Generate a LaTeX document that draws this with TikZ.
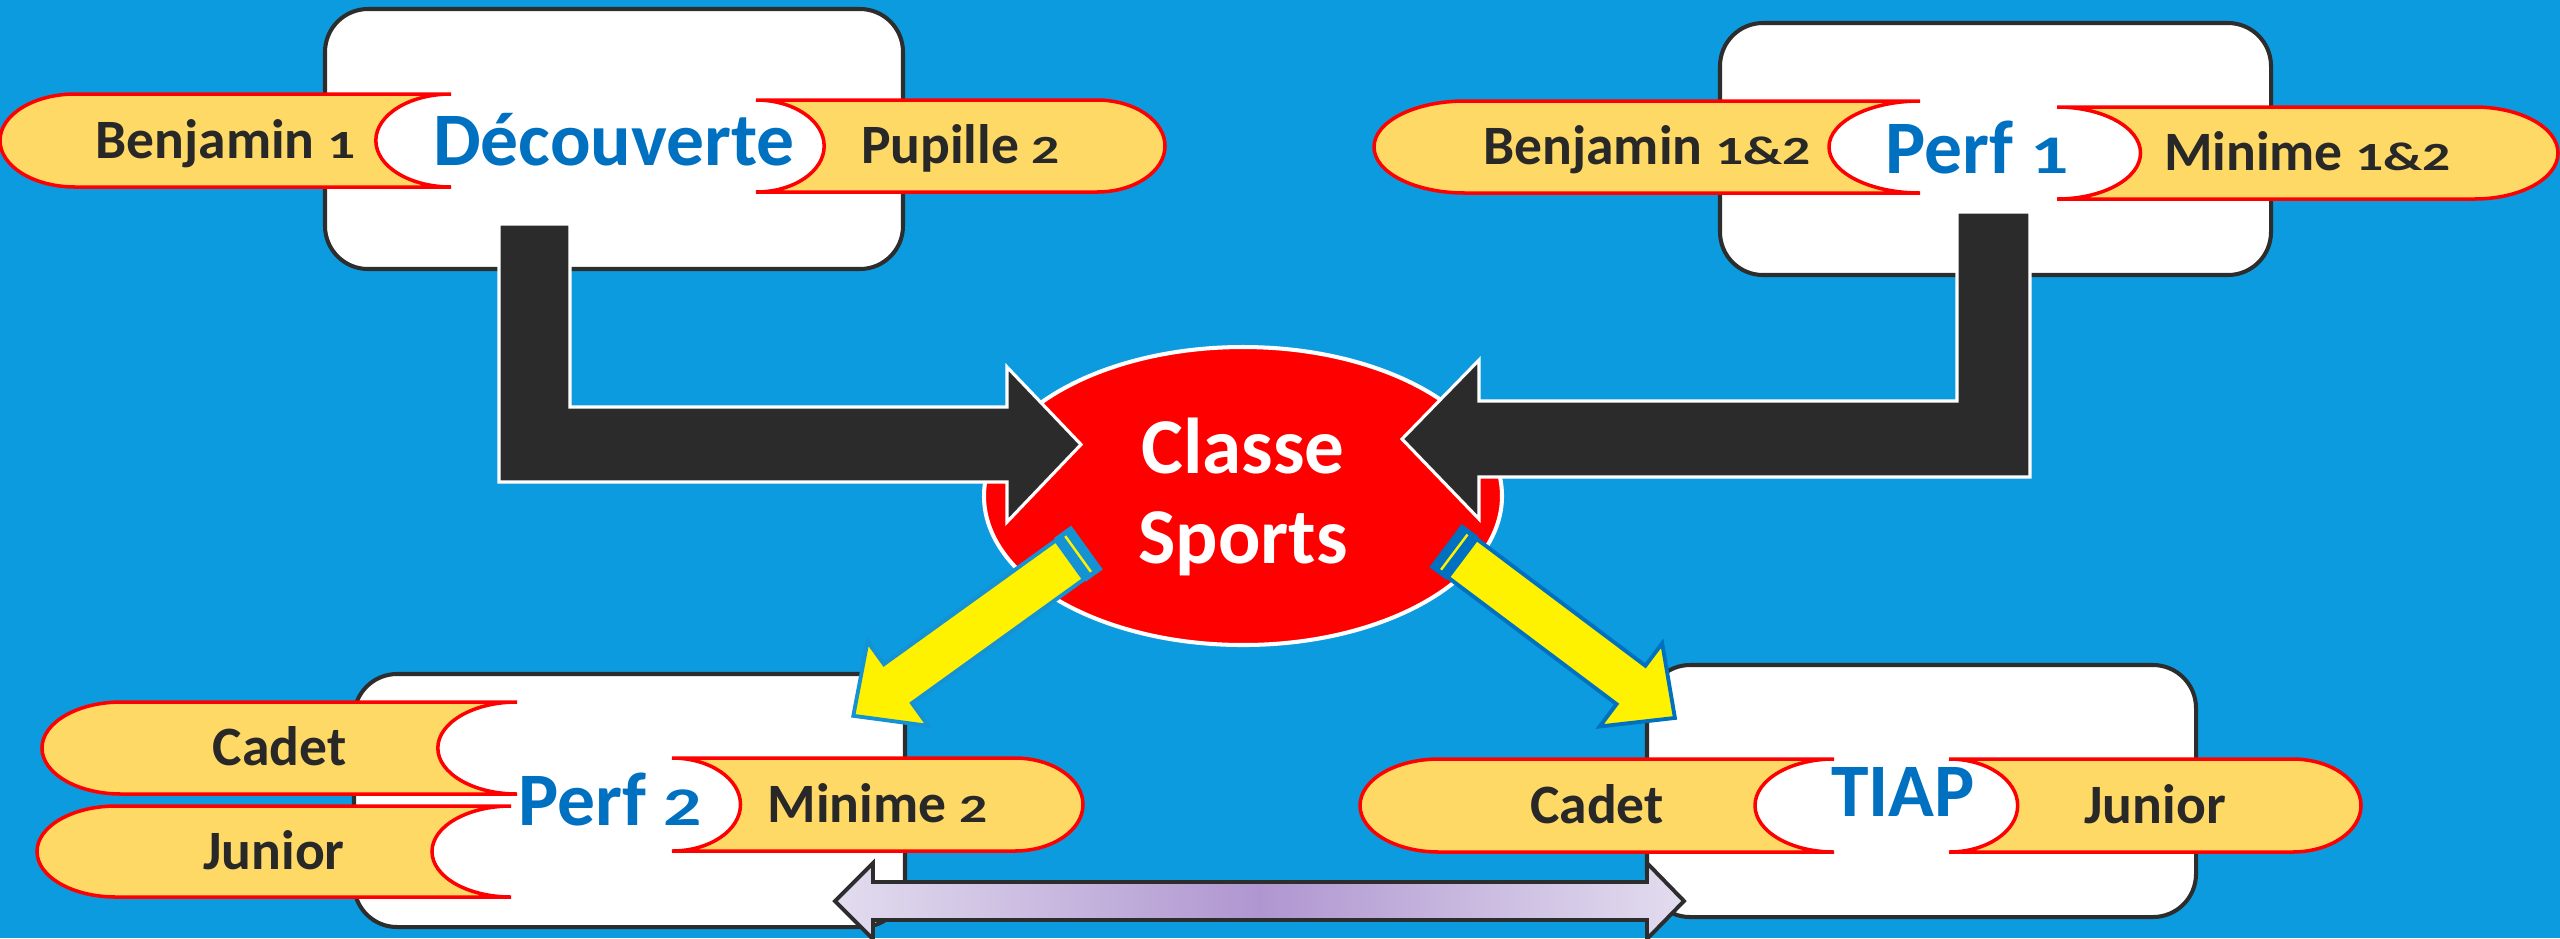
\documentclass[tikz,border=0pt]{standalone}
\usepackage{fontspec}
\setmainfont{Carlito}

\definecolor{bgblue}{RGB}{12,155,222}
\definecolor{boxgray}{RGB}{45,45,45}
\definecolor{pillfill}{RGB}{255,217,102}
\definecolor{headblue}{RGB}{0,112,192}
\definecolor{textdark}{RGB}{40,40,40}
\definecolor{arrowblack}{RGB}{43,43,43}
\definecolor{stripeblue}{RGB}{20,146,212}
\definecolor{stripedark}{RGB}{0,112,192}
\definecolor{lavlight}{RGB}{227,221,239}
\definecolor{lavdark}{RGB}{175,150,208}

% short figures, as in the slide
\newcommand{\osf}[1]{\scalebox{1}[0.72]{#1}}

\tikzset{
  levelbox/.style={draw=boxgray, line width=1.15pt, fill=white, rounded corners=0.43cm},
  pill/.style={draw=red, line width=1pt, fill=pillfill},
  pilltext/.style={anchor=base, text=textdark, font=\fontsize{15.8}{19}\selectfont\bfseries},
  headtext/.style={anchor=base, text=headblue, font=\fontsize{21.5}{26}\selectfont\bfseries},
  bentarrow/.style={fill=arrowblack, draw=white, line width=0.9pt},
  yellowbody/.style={fill=yellow, line width=1.1pt},
}

% round end on the left, hollow end on the right
\newcommand{\pillleft}[6]{%
  \pgfmathsetmacro\pr{(#4-#2)/6}
  \pgfmathsetmacro\ph{(#5-#3)/2}
  \draw[pill] (#2+\pr,#3) -- (#4,#3)
    arc[start angle=270, end angle=90, x radius=\pr, y radius=\ph]
    -- (#2+\pr,#5)
    arc[start angle=90, end angle=270, x radius=\pr, y radius=\ph] -- cycle;
  \node[pilltext] (#1) at ({(#2+#4)/2},{(#3+#5)/2+17.5}) {#6};
}
% hollow end on the left, round end on the right
\newcommand{\pillright}[6]{%
  \pgfmathsetmacro\pr{(#4-#2)/6}
  \pgfmathsetmacro\ph{(#5-#3)/2}
  \draw[pill] (#2,#3) -- (#4-\pr,#3)
    arc[start angle=270, end angle=450, x radius=\pr, y radius=\ph]
    -- (#2,#5)
    arc[start angle=90, end angle=-90, x radius=\pr, y radius=\ph] -- cycle;
  \node[pilltext] (#1) at ({(#2+#4)/2},{(#3+#5)/2+17.5}) {#6};
}

\begin{document}
\begin{tikzpicture}[x=0.01cm, y=-0.01cm]

    % background
    \useasboundingbox (0,0) rectangle (2560,938);
    \fill[bgblue] (0,0) rectangle (2560,938);

    % level boxes
    \draw[levelbox] (325,9) rectangle (903,269);
    \draw[levelbox] (1720,23) rectangle (2271,275);
    \draw[levelbox] (354,674) rectangle (905,927);
    \draw[levelbox] (1647,665) rectangle (2196,917);

    % age groups
    \pillleft{benj1}{0}{94}{451}{187}{Benjamin \osf{1}}
    \pillright{pup2}{756}{100}{1165}{192}{Pupille \osf{2}}
    \pillleft{benj12}{1374}{101}{1920}{193}{Benjamin \osf{1\&2}}
    \pillright{min12}{2057}{107}{2558}{199}{Minime \osf{1\&2}}
    \pillleft{cadetA}{42}{702}{517}{794}{Cadet}
    \pillleft{juniorA}{37}{806}{511}{897}{Junior}
    \pillright{min2}{672}{758}{1083}{851}{Minime \osf{2}}
    \pillleft{cadetB}{1360}{759}{1834}{852}{Cadet}
    \pillright{juniorB}{1949}{759}{2361}{852}{Junior}

    % level names
    \node[headtext] (decouverte) at (614,165) {Découverte};
    \node[headtext] (perf1) at (1977,173) {Perf \osf{1}};
    \node[headtext] (perf2) at (610,825) {Perf \osf{2}};
    \node[headtext] (tiap) at (1903,816) {TIAP};

    % centre
    \draw[fill=red, draw=white, line width=1.15pt] (1243,496) ellipse [x radius=259, y radius=149];
    \node[align=center, text=white, font=\fontsize{22.5}{25.6}\selectfont\bfseries] (classe) at (1243,497) {Classe\\Sports};

    % black arrows into the centre
    \draw[bentarrow] (499,224) -- (570,224) -- (570,407) -- (1007,407) -- (1007,367) -- (1081,444.5)
        -- (1007,522) -- (1007,482) -- (499,482) -- cycle;
    \draw[bentarrow] (2030,212) -- (1957,212) -- (1957,401) -- (1479,401) -- (1479,360) -- (1402,439)
        -- (1479,519) -- (1479,477) -- (2030,477) -- cycle;

    % yellow arrows out of the centre
    \begin{scope}[shift={(1087,547.5)}, rotate=215.76]
        \fill[stripeblue] (0,-27) rectangle (21,27);
        \draw[yellow, line width=0.7pt] (11,-22) -- (11,22);
        \draw[yellowbody, draw=stripeblue] (21,-24) -- (233,-24) -- (233,-52) -- (288,0) -- (233,52) -- (233,24) -- (21,24) -- cycle;
    \end{scope}
    \begin{scope}[shift={(1445.5,545.5)}, rotate=-36.93]
        \fill[stripedark] (0,-27) rectangle (21,27);
        \draw[yellow, line width=0.7pt] (11,-22) -- (11,22);
        \draw[yellowbody, draw=stripedark] (21,-24) -- (232,-24) -- (232,-52) -- (287,0) -- (232,52) -- (232,24) -- (21,24) -- cycle;
    \end{scope}

    % link between Perf 2 and TIAP
    \draw[left color=lavlight, right color=lavlight, middle color=lavdark, draw=boxgray, line width=1.1pt]
        (835,901) -- (873,863) -- (873,882) -- (1647,882) -- (1647,863) -- (1684,901)
        -- (1647,939) -- (1647,920) -- (873,920) -- (873,939) -- cycle;

\end{tikzpicture}
\end{document}
